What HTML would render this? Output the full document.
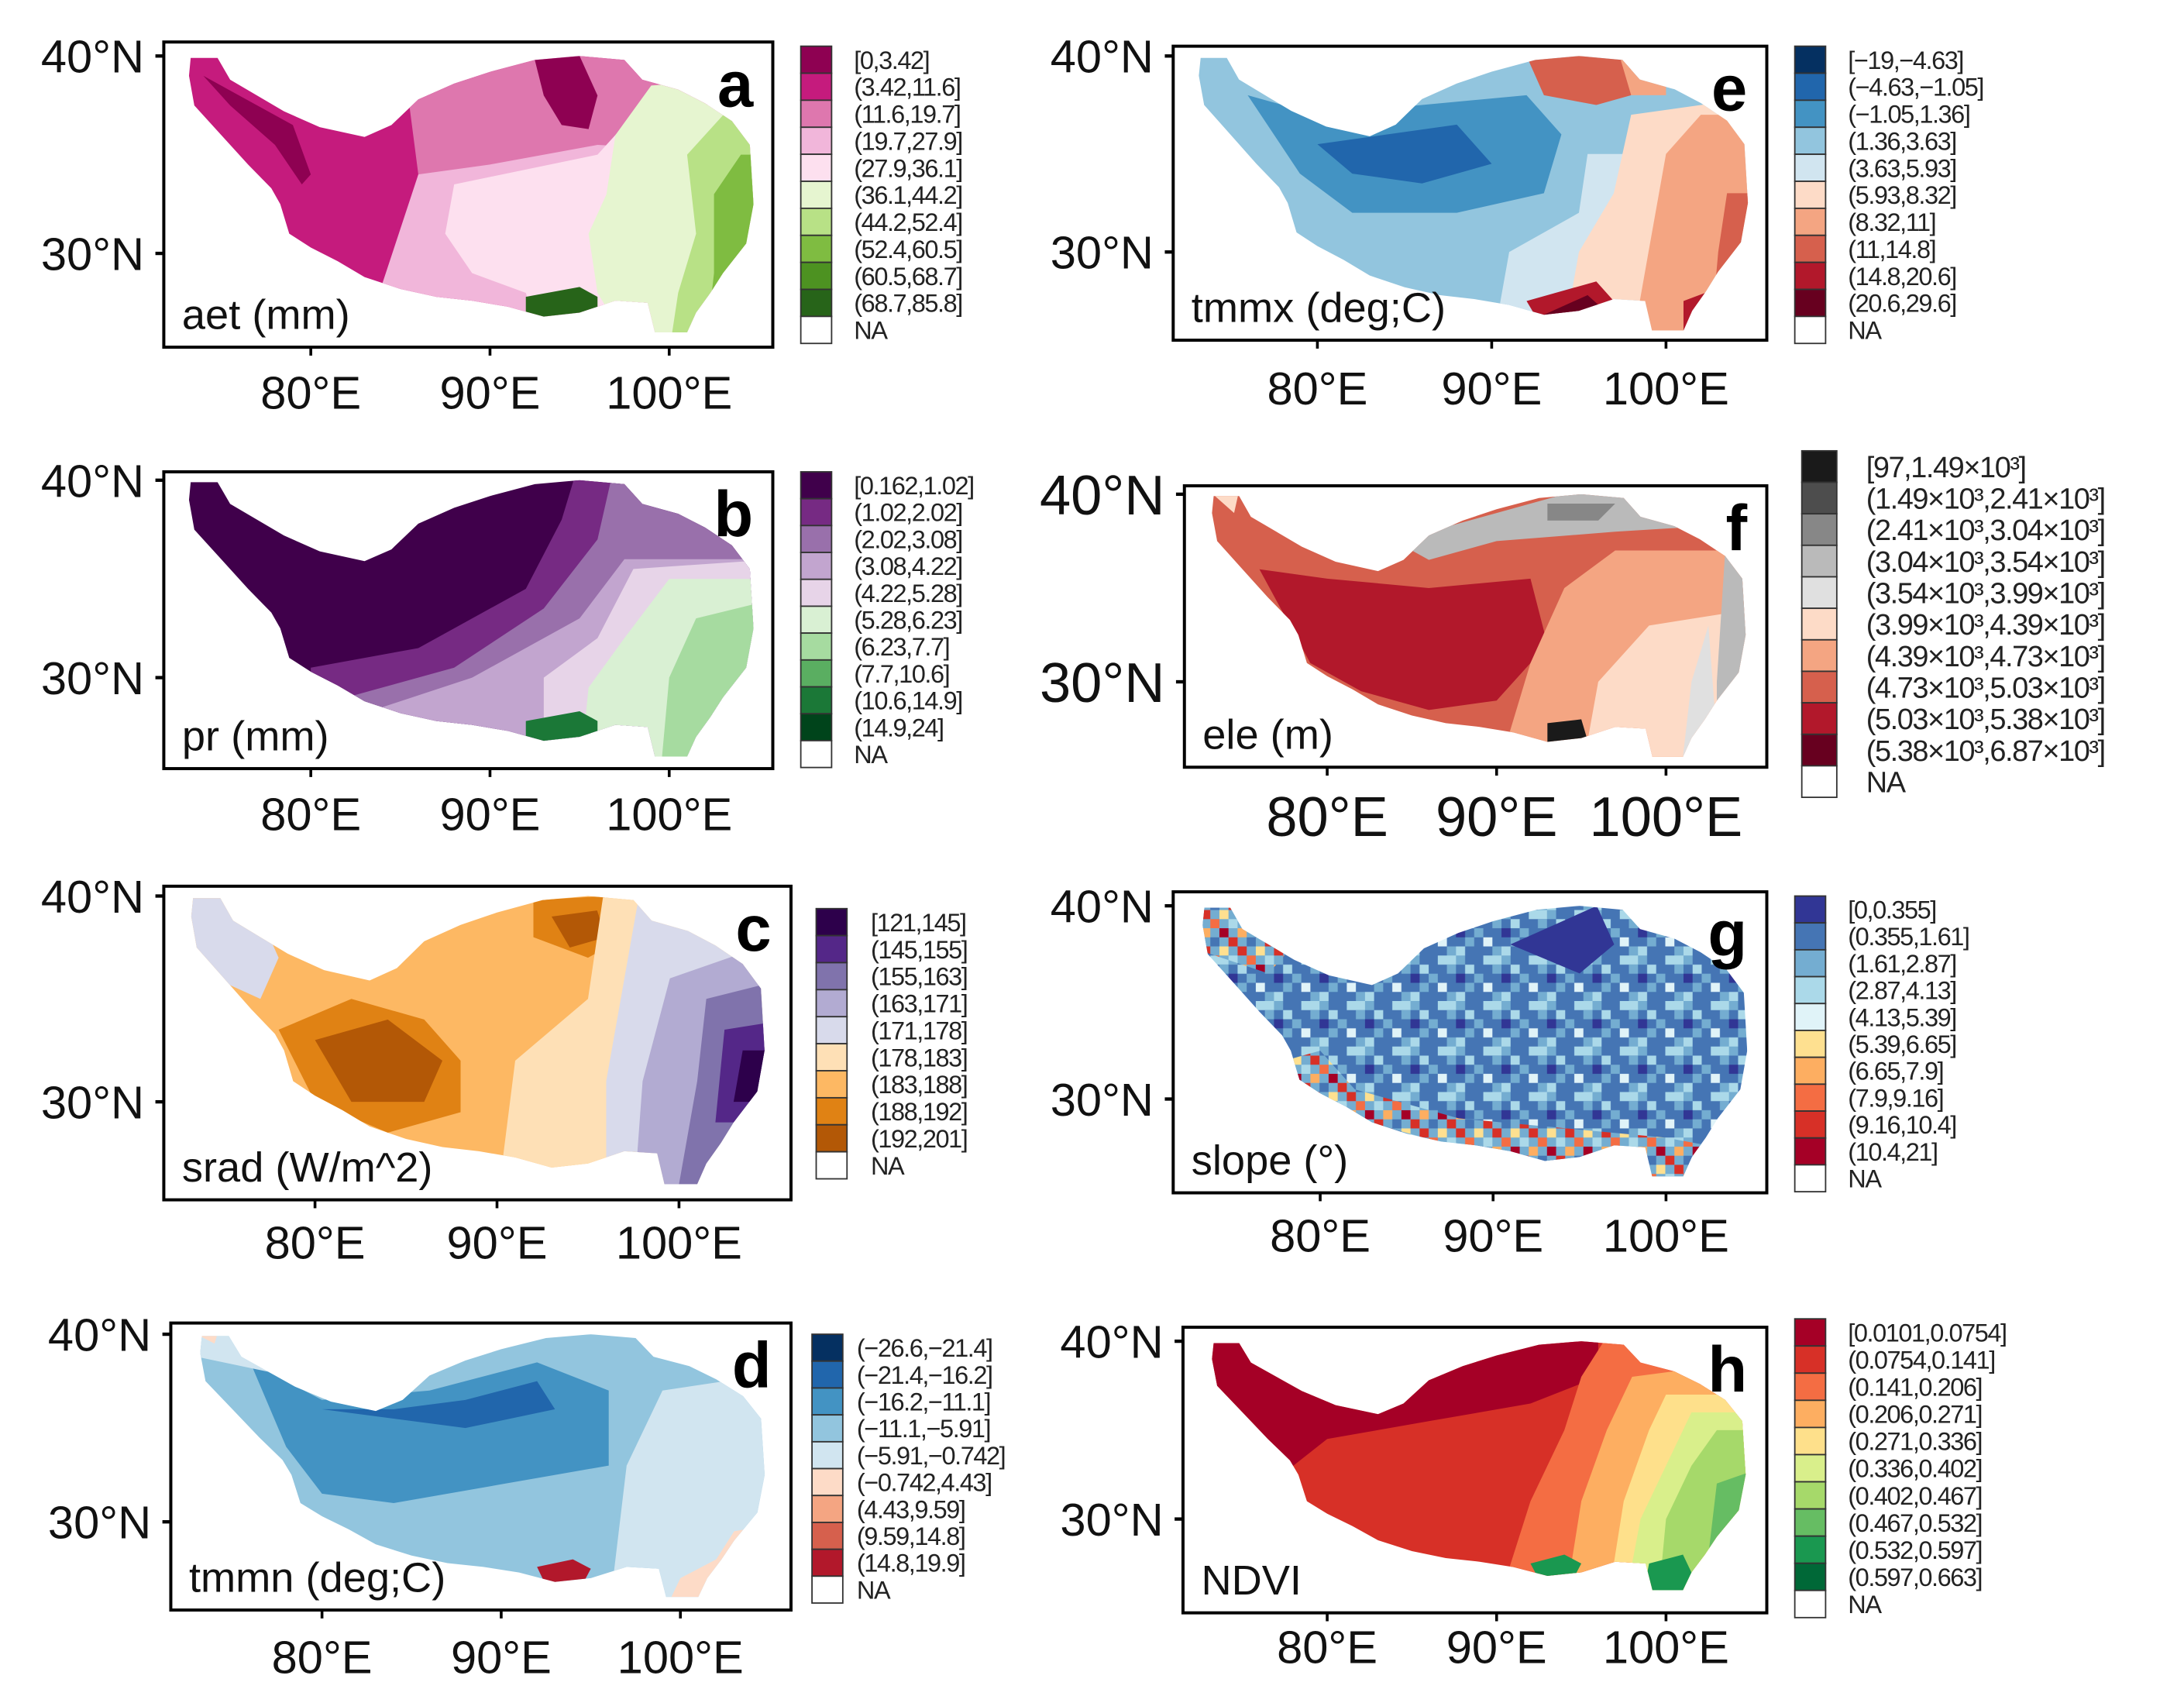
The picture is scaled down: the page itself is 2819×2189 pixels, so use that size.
<!DOCTYPE html>
<html><head><meta charset="utf-8"><style>
html,body{margin:0;padding:0;background:#fff;}
svg{display:block;font-family:"Liberation Sans",Arial,sans-serif;}
</style></head><body>
<svg id="fig" width="2819" height="2189" viewBox="0 0 1560 1211.4" preserveAspectRatio="none" xmlns="http://www.w3.org/2000/svg">
<defs>
<pattern id="pblue" patternUnits="userSpaceOnUse" width="32.5" height="32.5">
<rect width="32.5" height="32.5" fill="#4575b4"/>
<rect x="0" y="0" width="6.5" height="6.5" fill="#74add1"/><rect x="19.5" y="0" width="13" height="6.5" fill="#abd9e9"/>
<rect x="6.5" y="6.5" width="6.5" height="6.5" fill="#abd9e9"/><rect x="26" y="6.5" width="6.5" height="6.5" fill="#74add1"/>
<rect x="13" y="13" width="6.5" height="6.5" fill="#74add1"/><rect x="0" y="13" width="6.5" height="6.5" fill="#313695"/>
<rect x="19.5" y="19.5" width="6.5" height="6.5" fill="#e0f3f8"/><rect x="6.5" y="19.5" width="6.5" height="6.5" fill="#74add1"/>
<rect x="0" y="26" width="6.5" height="6.5" fill="#abd9e9"/><rect x="26" y="26" width="6.5" height="6.5" fill="#74add1"/>
<rect x="13" y="26" width="6.5" height="6.5" fill="#4575b4"/>
</pattern>
<pattern id="pwarm" patternUnits="userSpaceOnUse" width="26" height="26">
<rect width="26" height="26" fill="#74add1"/>
<rect x="0" y="0" width="6.5" height="6.5" fill="#d73027"/><rect x="13" y="0" width="6.5" height="6.5" fill="#fee090"/>
<rect x="6.5" y="6.5" width="6.5" height="6.5" fill="#f46d43"/><rect x="19.5" y="6.5" width="6.5" height="6.5" fill="#abd9e9"/>
<rect x="0" y="13" width="6.5" height="6.5" fill="#fdae61"/><rect x="13" y="13" width="6.5" height="6.5" fill="#a50026"/>
<rect x="6.5" y="19.5" width="6.5" height="6.5" fill="#4575b4"/><rect x="19.5" y="19.5" width="6.5" height="6.5" fill="#d73027"/>
</pattern>
</defs>
</svg>
<script>
// Plateau outline (lon, lat)
const outline = [[73.3,39.9],[74.8,39.9],[75.5,38.8],[77,38],[78.5,37.2],[80.5,36.4],[83,35.9],[84.5,36.5],[86,37.8],[88,38.6],[90,39.2],[92.5,39.8],[95,40],[97.5,39.8],[98.5,38.8],[100.5,38.3],[102,37.6],[103.5,36.7],[104.5,35.5],[104.7,32.5],[104.3,30.5],[103,29],[102.3,28],[101.5,27],[101,26],[99.2,26],[98.8,27.5],[97,27.6],[95,27],[93,26.8],[91,27.3],[89,27.6],[87,27.8],[85,28.2],[83,28.8],[81.5,29.6],[80,30.3],[78.8,31],[78.3,32.5],[77.8,33.3],[76.5,34.5],[75,36],[73.5,37.5],[73.2,39]];

// Legend categories & colours
const labelsA = ["[0,3.42]","(3.42,11.6]","(11.6,19.7]","(19.7,27.9]","(27.9,36.1]","(36.1,44.2]","(44.2,52.4]","(52.4,60.5]","(60.5,68.7]","(68.7,85.8]","NA"];
const colorsA = ["#8e0152","#c51b7d","#de77ae","#f1b6da","#fde0ef","#e6f5d0","#b8e186","#7fbc41","#4d9221","#276419"];
const labelsB = ["[0.162,1.02]","(1.02,2.02]","(2.02,3.08]","(3.08,4.22]","(4.22,5.28]","(5.28,6.23]","(6.23,7.7]","(7.7,10.6]","(10.6,14.9]","(14.9,24]","NA"];
const colorsB = ["#40004b","#762a83","#9970ab","#c2a5cf","#e7d4e8","#d9f0d3","#a6dba0","#5aae61","#1b7837","#00441b"];
const labelsC = ["[121,145]","(145,155]","(155,163]","(163,171]","(171,178]","(178,183]","(183,188]","(188,192]","(192,201]","NA"];
const colorsC = ["#2d004b","#542788","#8073ac","#b2abd2","#d8daeb","#fee0b6","#fdb863","#e08214","#b35806"];
const labelsD = ["(\u221226.6,\u221221.4]","(\u221221.4,\u221216.2]","(\u221216.2,\u221211.1]","(\u221211.1,\u22125.91]","(\u22125.91,\u22120.742]","(\u22120.742,4.43]","(4.43,9.59]","(9.59,14.8]","(14.8,19.9]","NA"];
const colorsD = ["#053061","#2166ac","#4393c3","#92c5de","#d1e5f0","#fddbc7","#f4a582","#d6604d","#b2182b"];
const labelsE = ["[\u221219,\u22124.63]","(\u22124.63,\u22121.05]","(\u22121.05,1.36]","(1.36,3.63]","(3.63,5.93]","(5.93,8.32]","(8.32,11]","(11,14.8]","(14.8,20.6]","(20.6,29.6]","NA"];
const colorsE = ["#053061","#2166ac","#4393c3","#92c5de","#d1e5f0","#fddbc7","#f4a582","#d6604d","#b2182b","#67001f"];
const labelsF = ["[97,1.49\u00d710\u00b3]","(1.49\u00d710\u00b3,2.41\u00d710\u00b3]","(2.41\u00d710\u00b3,3.04\u00d710\u00b3]","(3.04\u00d710\u00b3,3.54\u00d710\u00b3]","(3.54\u00d710\u00b3,3.99\u00d710\u00b3]","(3.99\u00d710\u00b3,4.39\u00d710\u00b3]","(4.39\u00d710\u00b3,4.73\u00d710\u00b3]","(4.73\u00d710\u00b3,5.03\u00d710\u00b3]","(5.03\u00d710\u00b3,5.38\u00d710\u00b3]","(5.38\u00d710\u00b3,6.87\u00d710\u00b3]","NA"];
const colorsF = ["#1a1a1a","#4d4d4d","#878787","#bababa","#e0e0e0","#fddbc7","#f4a582","#d6604d","#b2182b","#67001f"];
const labelsG = ["[0,0.355]","(0.355,1.61]","(1.61,2.87]","(2.87,4.13]","(4.13,5.39]","(5.39,6.65]","(6.65,7.9]","(7.9,9.16]","(9.16,10.4]","(10.4,21]","NA"];
const colorsG = ["#313695","#4575b4","#74add1","#abd9e9","#e0f3f8","#fee090","#fdae61","#f46d43","#d73027","#a50026"];
const labelsH = ["[0.0101,0.0754]","(0.0754,0.141]","(0.141,0.206]","(0.206,0.271]","(0.271,0.336]","(0.336,0.402]","(0.402,0.467]","(0.467,0.532]","(0.532,0.597]","(0.597,0.663]","NA"];
const colorsH = ["#a50026","#d73027","#f46d43","#fdae61","#fee08b","#d9ef8b","#a6d96a","#66bd63","#1a9850","#006837"];

// Class zones: [class index, polygon in lon/lat]; -1/-2 = mixed texture
const zonesA = [[1,[[72,41],[106,41],[106,25],[72,25]]],[0,[[74,39],[76,38],[79,36.5],[80,34],[79.5,33.5],[78,35.5],[75.5,37.5]]],[2,[[85,41],[106,41],[106,25],[85,25],[86,30],[86,34]]],[0,[[92.5,39.8],[95,40],[96,38],[95.5,36.3],[94,36.5],[93,38]]],[3,[[86,34],[90,34.5],[96,35.5],[106,35],[106,25],[84,25],[84,28.5]]],[4,[[88,33.5],[96,35],[98,37],[106,38],[106,25],[93,25],[92,28],[89,29],[87.5,31]]],[5,[[97,36],[99,38.5],[106,39],[106,25],[98,25],[96,28],[95.5,31],[96.5,33]]],[6,[[101,35],[103,37],[106,37],[106,25],[100,25],[100.5,28],[101.5,31]]],[7,[[102.5,33],[104,35],[106,35],[106,25],[102,25],[102.5,29]]],[9,[[92,27.8],[95,28.3],[96,27.8],[96,26.5],[93,26.5],[92,27]]]];
const zonesB = [[0,[[72,41],[106,41],[106,25],[72,25]]],[1,[[80,30.5],[86,31.5],[92,34.5],[94,38],[95,41],[106,41],[106,25],[80,25]]],[2,[[82,29],[88,30.5],[93,33.5],[96,37],[97,41],[106,41],[106,25],[82,25]]],[3,[[84,28.5],[89,30],[95,33],[97.5,36],[106,36],[106,25],[84,25]]],[4,[[93,25],[93,30],[96,32],[98,35.5],[106,36],[106,25]]],[5,[[95,25],[95.5,29.5],[97.5,32],[100,35],[106,35],[106,25]]],[6,[[99.5,25],[100,30],[101.5,33],[106,34],[106,25]]],[8,[[92,27.8],[95,28.3],[96,27.8],[96,26.5],[93,26.5],[92,27]]]];
const zonesC = [[6,[[72,41],[106,41],[106,25],[72,25]]],[7,[[78,33.5],[82,35],[86,34],[88,32],[88,29.5],[84,28.5],[80,30]]],[8,[[80,33],[84,34],[87,32],[86,30],[82,30]]],[7,[[92,39.8],[96,40],[97,38],[95,37],[92,38]]],[8,[[93,39],[95.5,39.3],[96,38],[94,37.5]]],[4,[[72,41],[76,41],[78,37],[77,35],[72,37]]],[5,[[90,25],[91,32],[95,35],[96,41],[106,41],[106,25]]],[4,[[96,25],[96,31],[97,36],[98,41],[106,41],[106,25]]],[3,[[97.5,25],[98,31],[99.5,36],[106,38],[106,25]]],[2,[[100,26],[101,31],[101.5,35],[106,36],[106,26]]],[1,[[102,29],[102.5,33.5],[106,34],[106,29]]],[0,[[103,30],[103.5,32.5],[106,32.5],[106,30]]]];
const zonesD = [[3,[[72,41],[106,41],[106,25],[72,25]]],[2,[[76,38.5],[80,36.5],[86,37],[92,38.5],[96,37],[96,33],[90,32],[84,31],[80,31.5],[78,34]]],[1,[[80,36],[84,36],[88,36.5],[92,37.5],[93,36],[88,35]]],[4,[[96,25],[97,33],[99,37],[106,38],[106,25]]],[4,[[72,39],[75,41],[78,41],[77,38]]],[5,[[72,40.5],[74.5,41],[74,39.5]]],[5,[[99,25],[100,27],[102,28],[103,29.5],[106,30],[106,25]]],[8,[[92,27.6],[94,28],[95,27.5],[94.5,26.6],[92.5,26.6]]],[6,[[95,26],[95,27],[96,27],[96,26]]]];
const zonesE = [[3,[[72,41],[106,41],[106,25],[72,25]]],[2,[[76,38],[80,37],[86,37.5],[92,38],[94,36],[93,33],[88,32],[82,32],[79,34]]],[1,[[80,35.5],[84,36],[88,36.5],[90,34.5],[86,33.5],[82,34]]],[4,[[90,25],[91,30],[95,32],[95.5,35],[106,35],[106,25]]],[5,[[94,25],[95,30],[97,33],[98,37],[106,38],[106,25]]],[6,[[98,25],[99,30],[100,35],[102,37],[106,37],[106,25]]],[7,[[102.5,25],[103,30],[103.5,33],[106,33],[106,25]]],[7,[[92,40],[98,40.5],[98,38],[96,37.5],[93,38]]],[6,[[97,41],[100,41],[100,38],[98,38]]],[8,[[92,27.5],[96,28.5],[97,27.5],[96,26],[93,26]]],[9,[[93,26.8],[95.5,27.8],[96.5,27],[95,26],[93,26]]],[8,[[101,25],[101,27.5],[102.5,28],[103,25]]]];
const zonesF = [[7,[[72,41],[106,41],[106,25],[72,25]]],[8,[[76,36],[80,35.5],[86,35],[92,35.5],[93,32],[90,29],[86,28.5],[82,29.5],[79,31]]],[6,[[90,25],[92,31],[94,35],[97,37],[106,37],[106,25]]],[5,[[95,25],[96,30],[99,33],[106,34],[106,25]]],[3,[[84,37.5],[90,39],[96,40.5],[106,41],[106,38.5],[97,38],[90,37.5],[86,36.5]]],[2,[[93,39.5],[97,39.5],[96,38.6],[93,38.6]]],[3,[[103,25],[103,30],[103.5,37],[106,37],[106,25]]],[4,[[101,26],[101.5,30],[102.5,33],[103,27]]],[0,[[93,26],[93,27.8],[95,28],[95.5,26.5]]],[5,[[72,41],[75,41],[74.5,39]]]];
const zonesG = [[-1,[[72,41],[106,41],[106,25],[72,25]]],[-2,[[78,32],[79,30.5],[82,29],[88,27.5],[94,26.5],[99,25],[106,25],[106,27],[100,28],[94,28.5],[88,29],[82,30.5],[80,32.5]]],[-2,[[72,41],[76,41],[78,37.5],[77,36.5],[72,38]]],[0,[[91,38],[96,40],[97,38],[95,36.5]]]];
const zonesH = [[1,[[72,41],[106,41],[106,25],[72,25]]],[0,[[72,41],[96,41],[96,38],[92,36.5],[86,35.5],[80,34.5],[78,33],[72,35]]],[2,[[90,25],[92,31],[94,35],[95,38],[97,41],[106,41],[106,25]]],[3,[[94,25],[95,31],[96.5,35],[98,38],[106,39],[106,25]]],[4,[[96.5,25],[97.5,31],[99,35],[100,37],[106,37],[106,25]]],[5,[[97.5,25],[98.5,30],[100,33],[101.5,36],[106,36],[106,25]]],[6,[[99.5,25],[100,30],[101.5,33],[103,35],[106,35],[106,25]]],[7,[[102.5,28],[103,32],[106,33],[106,28]]],[8,[[98.5,25],[99,27.5],[101,28],[102,26],[101,25]]],[8,[[92,27.5],[94,28],[95,27.5],[94.5,26.6],[92.5,26.6]]]];

const xTicks = [80,90,100];
const yTicks = [40,30];

const panels = [
 {id:"a",title:"aet (mm)",labels:labelsA,colors:colorsA,zones:zonesA,frame:[117,30,552,248],xt:[222,478],yt:[40,181],xlab:292,tf:33,leg:[572,33,22,19.3],lf:18,lbx:610},
 {id:"b",title:"pr (mm)",labels:labelsB,colors:colorsB,zones:zonesB,frame:[117,337,552,549],xt:[222,478],yt:[343,484],xlab:593,tf:33,leg:[572,337,22,19.2],lf:18,lbx:610},
 {id:"c",title:"srad (W/m^2)",labels:labelsC,colors:colorsC,zones:zonesC,frame:[117,633,565,857],xt:[225,485],yt:[640,787],xlab:899,tf:33,leg:[583,649,22,19.3],lf:18,lbx:622},
 {id:"d",title:"tmmn (deg;C)",labels:labelsD,colors:colorsD,zones:zonesD,frame:[122,945,565,1150],xt:[230,486],yt:[953,1087],xlab:1195,tf:33,leg:[580,953,22,19.2],lf:18,lbx:612},
 {id:"e",title:"tmmx (deg;C)",labels:labelsE,colors:colorsE,zones:zonesE,frame:[838,33,1262,243],xt:[941,1190],yt:[40,180],xlab:289,tf:33,leg:[1282,33,22,19.3],lf:18,lbx:1320},
 {id:"f",title:"ele (m)",labels:labelsF,colors:colorsF,zones:zonesF,frame:[846,347,1262,548],xt:[948,1190],yt:[353,487],xlab:597,tf:40,leg:[1287,322,25,22.5],lf:21,lbx:1333},
 {id:"g",title:"slope (\u00b0)",labels:labelsG,colors:colorsG,zones:zonesG,frame:[838,637,1262,852],xt:[943,1190],yt:[647,785],xlab:894,tf:33,leg:[1282,640,22,19.2],lf:18,lbx:1320},
 {id:"h",title:"NDVI",labels:labelsH,colors:colorsH,zones:zonesH,frame:[845,948,1262,1152],xt:[948,1190],yt:[958,1085],xlab:1188,tf:33,leg:[1282,942,22,19.4],lf:18,lbx:1320}
];

const NS = "http://www.w3.org/2000/svg";
const svg = document.getElementById("fig");
function mk(tag, attrs, parent){const e=document.createElementNS(NS,tag);for(const k in attrs)e.setAttribute(k,attrs[k]);(parent||svg).appendChild(e);return e;}

panels.forEach(p=>{
  const g = mk("g",{});
  
  
  const [x0,y0,x1,y1] = p.frame;
  const lonX = lon => p.xt[0] + (lon-80)*(p.xt[1]-p.xt[0])/20;
  const latY = lat => p.yt[0] + (40-lat)*(p.yt[1]-p.yt[0])/10;
  const pts = arr => arr.map(q=>lonX(q[0]).toFixed(1)+","+latY(q[1]).toFixed(1)).join(" ");
  const clip = mk("clipPath",{id:"clip"+p.id},g);
  mk("polygon",{points:pts(outline)},clip);
  const mapG = mk("g",{"clip-path":"url(#clip"+p.id+")"},g);
  
  
  p.zones.forEach(z=>{
    const fill = z[0]===-1 ? "url(#pblue)" : z[0]===-2 ? "url(#pwarm)" : p.colors[z[0]];
    const poly = mk("polygon",{points:pts(z[1]),fill:fill},mapG);
    
    
  });
  const fr = mk("rect",{x:x0,y:y0,width:x1-x0,height:y1-y0,fill:"none",stroke:"#000","stroke-width":2.2},g);
  
  
  xTicks.forEach(v=>{
    const x = lonX(v);
    mk("line",{x1:x,x2:x,y1:y1,y2:y1+6,stroke:"#000","stroke-width":2},g);
    const t = mk("text",{x:x,y:p.xlab,"text-anchor":"middle","font-size":p.tf,fill:"#111"},g);
    t.textContent = v+"\u00b0E";
    
    
  });
  yTicks.forEach(v=>{
    const y = latY(v);
    mk("line",{x1:x0-6,x2:x0,y1:y,y2:y,stroke:"#000","stroke-width":2.4},g);
    const t = mk("text",{x:x0-14,y:y+p.tf*0.36,"text-anchor":"end","font-size":p.tf,fill:"#111"},g);
    t.textContent = v+"\u00b0N";
    
    
  });
  const lt = mk("text",{x:x1-14,y:y0+46,"text-anchor":"end","font-size":46,"font-weight":"bold",fill:"#000"},g);
  lt.textContent = p.id;
  
  
  const tt = mk("text",{x:x0+13,y:y1-13,"font-size":30,fill:"#111"},g);
  tt.textContent = p.title;
  
  
  const [lx,ly,lw,lh] = p.leg;
  const lg = mk("g",{},g);
  
  
  p.labels.forEach((lab,i)=>{
    const c = i < p.colors.length ? p.colors[i] : "#ffffff";
    const r = mk("rect",{x:lx,y:ly+i*lh,width:lw,height:lh,fill:c,stroke:"#333","stroke-width":1},lg);
    
    
    const t = mk("text",{x:p.lbx,y:ly+i*lh+lh/2+p.lf*0.36,"font-size":p.lf,fill:"#222","letter-spacing":-0.8},lg);
    t.textContent = lab;
    
    
  });
});
</script>
</body></html>
